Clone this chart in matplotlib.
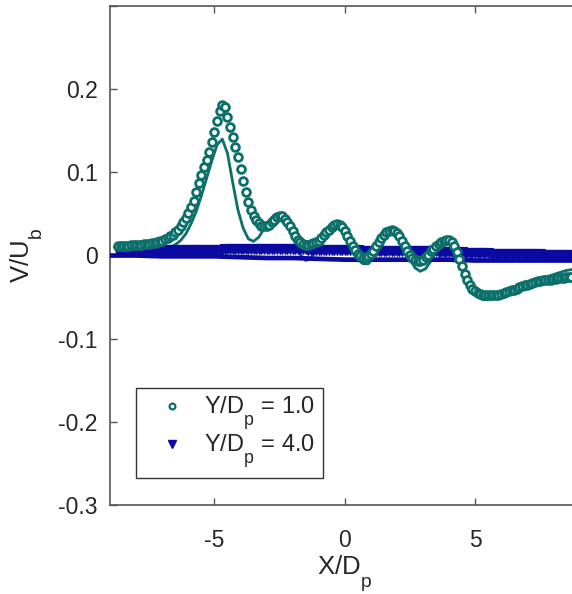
import matplotlib
matplotlib.use("Agg")
import matplotlib.pyplot as plt
from matplotlib.lines import Line2D
import matplotlib._mathtext as _mt

# MATLAB-like deep subscripts
_mt.FontConstantsBase.sub1 = 0.92
_mt.SHRINK_FACTOR = 0.75

plt.rcParams['font.family'] = ['Liberation Sans', 'DejaVu Sans']
plt.rcParams['mathtext.fontset'] = 'custom'
plt.rcParams['mathtext.rm'] = 'Liberation Sans'
plt.rcParams['axes.unicode_minus'] = False

# ---------------- data ----------------
# experiment X/Dp positions (both measurement heights)
x_exp = [
    -8.7, -8.6, -8.5, -8.4, -8.3, -8.2, -8.1, -8.0, -7.9, -7.8, -7.7, -7.6, -7.5, -7.4, -7.3, -7.2, -7.1, -7.0,
    -6.9, -6.8, -6.7, -6.6, -6.5, -6.4, -6.3, -6.2, -6.1, -6.0,
    -5.9, -5.8, -5.7, -5.6, -5.5, -5.4, -5.3, -5.2, -5.1, -5.0,
    -4.9, -4.8, -4.7, -4.6, -4.5, -4.4, -4.3, -4.2, -4.1, -4.0,
    -3.9, -3.8, -3.7, -3.6, -3.5, -3.4, -3.3, -3.2, -3.1, -3.0,
    -2.9, -2.8, -2.7, -2.6, -2.5, -2.4, -2.3, -2.2, -2.1, -2.0,
    -1.9, -1.8, -1.7, -1.6, -1.5, -1.4, -1.3, -1.2, -1.1, -1.0,
    -0.9, -0.8, -0.7, -0.6, -0.5, -0.4, -0.3, -0.2, -0.1, 0.0,
    0.1, 0.2, 0.3, 0.4, 0.5, 0.6, 0.7, 0.8, 0.9, 1.0,
    1.1, 1.2, 1.3, 1.4, 1.5, 1.6, 1.7, 1.8, 1.9, 2.0,
    2.1, 2.2, 2.3, 2.4, 2.5, 2.6, 2.7, 2.8, 2.9, 3.0,
    3.1, 3.2, 3.3, 3.4, 3.5, 3.6, 3.7, 3.8, 3.9, 4.0,
    4.1, 4.2, 4.3, 4.4, 4.5, 4.6, 4.7, 4.8, 4.9, 5.0,
    5.1, 5.2, 5.3, 5.4, 5.5, 5.6, 5.7, 5.8, 5.9, 6.0,
    6.1, 6.2, 6.3, 6.4, 6.5, 6.6, 6.7, 6.8, 6.9, 7.0,
    7.1, 7.2, 7.3, 7.4, 7.5, 7.6, 7.7, 7.8, 7.9, 8.0,
    8.1, 8.2, 8.3, 8.4, 8.5, 8.6, 8.7,
]

# Y/Dp = 1.0 experiment (circles)
v_exp_y1 = [
    0.012, 0.012, 0.012, 0.012, 0.012, 0.013, 0.013, 0.013, 0.013, 0.013, 0.014, 0.014, 0.014, 0.015, 0.015, 0.016, 0.017, 0.018,
    0.020, 0.021, 0.023, 0.025, 0.028, 0.031, 0.035, 0.040, 0.045, 0.051,
    0.058, 0.066, 0.076, 0.087, 0.097, 0.106, 0.115, 0.124, 0.136, 0.149,
    0.162, 0.174, 0.181, 0.178, 0.167, 0.155, 0.143, 0.130, 0.118, 0.104,
    0.090, 0.076, 0.064, 0.055, 0.048, 0.043, 0.039, 0.036, 0.035, 0.035,
    0.037, 0.040, 0.043, 0.046, 0.048, 0.047, 0.044, 0.040, 0.035, 0.030,
    0.024, 0.019, 0.016, 0.014, 0.013, 0.013, 0.014, 0.015, 0.016, 0.018,
    0.021, 0.025, 0.028, 0.031, 0.034, 0.037, 0.038, 0.037, 0.034, 0.030,
    0.024, 0.018, 0.012, 0.007, 0.002, -0.001, -0.003, -0.003, -0.001, 0.002,
    0.006, 0.011, 0.016, 0.021, 0.025, 0.028, 0.030, 0.031, 0.030, 0.027,
    0.023, 0.018, 0.012, 0.006, 0.001, -0.003, -0.006, -0.007, -0.007, -0.005,
    -0.002, 0.001, 0.005, 0.008, 0.011, 0.014, 0.016, 0.018, 0.019, 0.019,
    0.016, 0.011, 0.004, -0.004, -0.013, -0.022, -0.030, -0.036, -0.040, -0.043,
    -0.045, -0.046, -0.047, -0.047, -0.047, -0.048, -0.048, -0.047, -0.047, -0.046,
    -0.045, -0.044, -0.043, -0.042, -0.041, -0.040, -0.038, -0.037, -0.036, -0.035,
    -0.034, -0.033, -0.032, -0.031, -0.031, -0.030, -0.030, -0.029, -0.029, -0.028,
    -0.028, -0.027, -0.027, -0.027, -0.026, -0.026, -0.026,
]

# Y/Dp = 4.0 experiment (triangles)
v_exp_y4 = [
    0.005, 0.005, 0.005, 0.005, 0.005, 0.005, 0.006, 0.006, 0.006, 0.006, 0.006, 0.006, 0.006, 0.006, 0.006, 0.006, 0.007, 0.007,
    0.007, 0.007, 0.007, 0.007, 0.007, 0.007, 0.007, 0.007, 0.007, 0.007,
    0.007, 0.007, 0.007, 0.007, 0.007, 0.007, 0.007, 0.007, 0.007, 0.007,
    0.007, 0.007, 0.007, 0.008, 0.008, 0.008, 0.008, 0.008, 0.008, 0.008,
    0.008, 0.008, 0.008, 0.008, 0.008, 0.008, 0.008, 0.008, 0.008, 0.008,
    0.008, 0.008, 0.008, 0.008, 0.008, 0.008, 0.008, 0.008, 0.008, 0.008,
    0.008, 0.008, 0.008, 0.008, 0.008, 0.007, 0.007, 0.007, 0.007, 0.007,
    0.007, 0.007, 0.007, 0.007, 0.007, 0.007, 0.007, 0.007, 0.007, 0.007,
    0.007, 0.007, 0.007, 0.007, 0.007, 0.006, 0.006, 0.006, 0.006, 0.006,
    0.006, 0.006, 0.006, 0.006, 0.006, 0.006, 0.006, 0.006, 0.006, 0.006,
    0.006, 0.006, 0.006, 0.006, 0.006, 0.005, 0.005, 0.005, 0.005, 0.005,
    0.005, 0.005, 0.005, 0.005, 0.005, 0.004, 0.004, 0.004, 0.004, 0.004,
    0.004, 0.004, 0.004, 0.004, 0.004, 0.003, 0.003, 0.003, 0.003, 0.003,
    0.003, 0.003, 0.003, 0.003, 0.003, 0.002, 0.002, 0.002, 0.002, 0.002,
    0.002, 0.002, 0.002, 0.002, 0.002, 0.002, 0.002, 0.002, 0.002, 0.002,
    0.002, 0.002, 0.002, 0.002, 0.002, 0.001, 0.001, 0.001, 0.001, 0.001,
    0.001, 0.001, 0.001, 0.001, 0.001, 0.001, 0.001,
]

# simulation positions for Y/Dp = 1.0 (solid line)
x_sim_y1 = [
    -8.7, -8.5, -8.3, -8.1, -7.9, -7.7, -7.5, -7.3, -7.1, -6.9,
    -6.7, -6.5, -6.3, -6.1, -5.9, -5.7, -5.5, -5.3, -5.1, -4.9,
    -4.7, -4.5, -4.3, -4.1, -3.9, -3.7, -3.5, -3.3, -3.1, -2.9,
    -2.7, -2.5, -2.3, -2.1, -1.9, -1.7, -1.5, -1.3, -1.1, -0.9,
    -0.7, -0.5, -0.3, -0.1, 0.1, 0.3, 0.5, 0.7, 0.9, 1.1,
    1.3, 1.5, 1.7, 1.9, 2.1, 2.3, 2.5, 2.7, 2.9, 3.1,
    3.3, 3.5, 3.7, 3.9, 4.1, 4.3, 4.5, 4.7, 4.9, 5.1,
    5.3, 5.5, 5.7, 5.9, 6.1, 6.3, 6.5, 6.7, 6.9, 7.1,
    7.3, 7.5, 7.7, 7.9, 8.1, 8.3, 8.5, 8.7,
]
v_sim_y1 = [
    0.004, 0.004, 0.004, 0.005, 0.005, 0.005, 0.006, 0.006, 0.007, 0.008,
    0.010, 0.013, 0.018, 0.026, 0.038, 0.053, 0.072, 0.093, 0.114, 0.133,
    0.140, 0.123, 0.088, 0.055, 0.033, 0.020, 0.017, 0.022, 0.032, 0.042,
    0.049, 0.051, 0.046, 0.033, 0.015, 0.001, -0.006, -0.004, 0.006, 0.019,
    0.031, 0.039, 0.041, 0.035, 0.022, 0.006, -0.005, -0.010, -0.010, -0.003,
    0.010, 0.023, 0.032, 0.034, 0.027, 0.012, -0.004, -0.015, -0.019, -0.016,
    -0.007, 0.005, 0.015, 0.021, 0.018, 0.004, -0.014, -0.030, -0.042, -0.049,
    -0.053, -0.053, -0.051, -0.048, -0.045, -0.042, -0.040, -0.037, -0.035, -0.032,
    -0.030, -0.028, -0.026, -0.024, -0.022, -0.020, -0.018, -0.017,
]

# simulation for Y/Dp = 4.0 (blue line)
x_sim_y4 = [-9, -8, -7, -6, -5, -4, -3, -2, -1, 0, 1, 2, 3, 4, 5, 6, 7, 8, 9]
v_sim_y4 = [0.000, 0.000, -0.001, -0.001, -0.001, -0.002, -0.003, -0.003, -0.004, -0.005,
            -0.005, -0.005, -0.005, -0.005, -0.006, -0.006, -0.006, -0.006, -0.006]

legend_labels = [r'Y/D$_{\mathregular{p}}$ = 1.0', r'Y/D$_{\mathregular{p}}$ = 4.0']
xticks = [-5, 0, 5]
xtick_labels = ['-5', '0', '5']
yticks = [-0.3, -0.2, -0.1, 0.0, 0.1, 0.2, 0.3]
ytick_labels = ['-0.3', '-0.2', '-0.1', '0', '0.1', '0.2', '']

teal = '#0b6f6a'
blue = '#0a0aa3'
axis_col = '#555555'
text_col = '#262626'

# ---------------- figure ----------------
W, H = 572, 594
fig = plt.figure(figsize=(W / 100, H / 100), dpi=100)
left_px, right_px, top_px, bot_px = 110.2, 110.2 + 18 * 26.06, 6, 505
ax = fig.add_axes([left_px / W, 1 - bot_px / H, (right_px - left_px) / W, (bot_px - top_px) / H])

ax.plot(x_sim_y1, v_sim_y1, '-', color=teal, lw=2.0, zorder=2)
ax.plot(x_sim_y4, v_sim_y4, '-', color=blue, lw=3.4, zorder=3)
ax.plot(x_exp, v_exp_y4, linestyle='none', marker='v', ms=7, mfc=blue, mec=blue, mew=0.8, zorder=4)
ax.plot(x_exp, v_exp_y1, linestyle='none', marker='o', ms=5.6, mfc='white', mec=teal, mew=2.0, zorder=5)

ax.set_xlim(-9, 9)
ax.set_ylim(-0.3, 0.3)
ax.set_xticks(xticks)
ax.set_xticklabels(xtick_labels)
ax.set_yticks(yticks)
ax.set_yticklabels(ytick_labels)

for s in ax.spines.values():
    s.set_color(axis_col)
    s.set_linewidth(1.2)
ax.tick_params(direction='in', length=5, width=1.0, color=axis_col, top=True, right=True,
               labelsize=16.5, labelcolor=text_col)
ax.tick_params(axis='x', pad=17)
ax.tick_params(axis='y', pad=9)

ax.set_xlabel(r'X/D$_{\mathregular{p}}$', fontsize=18.5, color=text_col)
ax.set_ylabel(r'V/U$_{\mathregular{b}}$', fontsize=18.5, color=text_col)
ax.xaxis.set_label_coords(0.5, -0.099)
ax.yaxis.set_label_coords(-0.139, 0.500)

handles = [
    Line2D([], [], linestyle='none', marker='o', ms=4.2, mfc='white', mec=teal, mew=1.6),
    Line2D([], [], linestyle='none', marker='v', ms=5.5, mfc=blue, mec=blue),
]
leg = ax.legend(handles, legend_labels, loc='upper left',
                bbox_to_anchor=(136 / W, 1 - 388 / H), bbox_transform=fig.transFigure,
                borderaxespad=0, fontsize=17, frameon=True, fancybox=False,
                edgecolor='#333333', framealpha=1, borderpad=0.3, labelspacing=0.0,
                handlelength=2.45, handletextpad=0.15)
leg.get_frame().set_linewidth(1.0)
for t in leg.get_texts():
    t.set_color(text_col)

fig.savefig('out.png', dpi=100)
